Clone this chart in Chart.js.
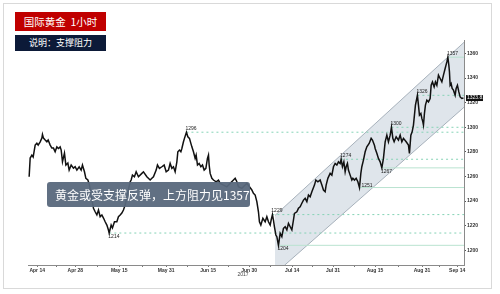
<!DOCTYPE html>
<html>
<head>
<meta charset="utf-8">
<script src="https://cdn.jsdelivr.net/npm/chart.js@4.4.0/dist/chart.umd.min.js"></script>
<style>
  body { margin: 0; background: #fff; font-family: "Noto Sans CJK SC", "Noto Sans", sans-serif; }
  #wrap { position: relative; width: 500px; height: 294px; overflow: hidden; }
  #frame { position: absolute; left: 3px; top: 3px; width: 487px; height: 284px; border: 1px solid #d9d9d9; }
  canvas { position: absolute; left: 0; top: 0; }
  .tag { position: absolute; left: 15px; width: 91px; color: #fff; text-align: center; white-space: pre; }
  #title { top: 12px; height: 19px; line-height: 19px; background: #c00000; font-size: 10.5px; }
  #subtitle { top: 35px; height: 16px; line-height: 16px; background: #0c1a38; font-size: 9px; }
  #note { position: absolute; left: 47px; top: 182px; width: 203px; height: 25px; line-height: 25px;
          background: rgba(88, 104, 124, 0.95); border-radius: 3px; color: #fff; font-size: 12px;
          padding-left: 8px; box-sizing: border-box; white-space: nowrap; overflow: visible; }
</style>
</head>
<body>
<div id="wrap">
  <div id="frame"></div>
  <canvas id="goldChart" width="500" height="294"></canvas>
  <div class="tag" id="title">国际黄金  1小时</div>
  <div class="tag" id="subtitle">说明：支撑阻力</div>
  <div id="note">黄金或受支撑反弹，上方阻力见1357</div>
</div>
<script>
// x = trading-session index (0 = Apr 14), y = gold price
const sessionIdx = [
  -2.10,-1.83,-1.39,-1.05,-0.52,-0.08,0.26,0.79,1.23,1.39,
  1.65,2.10,2.54,2.88,3.41,3.85,4.27,4.71,5.16,5.58,
  6.02,6.29,6.63,7.15,7.52,8.04,8.38,8.91,9.51,9.95,
  10.40,11.00,11.52,11.86,12.39,12.76,13.28,13.70,14.14,14.75,
  15.19,15.64,16.06,16.50,16.95,17.37,17.81,18.26,18.67,18.86,
  19.38,19.72,20.25,20.87,21.29,21.74,22.18,22.60,23.05,23.70,
  24.36,24.62,24.96,25.48,25.93,26.53,27.42,27.84,28.73,29.60,
  30.04,30.46,31.17,31.51,32.03,32.66,33.26,33.79,34.39,34.83,
  35.28,35.70,36.14,36.59,36.85,37.27,37.64,37.90,38.32,38.58,
  39.10,39.47,39.89,40.26,40.52,40.94,41.38,41.64,41.99,42.43,
  42.88,43.30,43.74,44.19,44.60,44.87,45.05,45.31,45.76,46.18,
  46.88,47.49,47.93,48.80,49.69,50.55,51.42,51.86,52.31,52.72,
  53.61,54.48,54.92,55.61,56.23,56.65,57.10,57.54,57.96,58.22,
  58.59,59.12,59.72,60.16,60.58,61.03,61.29,61.63,61.89,62.15,
  62.52,62.78,63.20,63.65,64.09,64.51,64.96,65.40,65.82,66.27,
  66.71,67.13,67.39,68.02,68.44,68.88,69.33,69.75,70.19,70.64,
  71.06,71.50,71.95,72.63,73.00,73.52,74.12,74.57,74.99,75.43,
  75.69,76.14,76.74,77.19,77.61,78.05,78.50,78.92,79.36,79.62,
  79.96,80.33,80.67,80.93,81.27,81.53,81.98,82.42,82.69,83.11,
  83.55,84.00,84.42,84.78,85.04,85.46,85.91,86.35,86.96,87.48,
  87.82,88.34,88.53,88.97,89.39,89.84,90.28,90.70,91.15,91.59,
  92.01,92.46,92.80,93.16,93.50,94.03,94.63,95.08,95.52,95.94,
  96.65,97.25,97.51,97.88,98.22,98.56,98.82,99.08,99.60,99.87,
  100.13,100.50,100.76,101.02,101.18,101.44,101.70,102.07,102.49,102.93,
  103.20,103.54,103.98,104.32,104.69,105.11,105.55,106.00,106.42,106.86,
  107.31,107.57,107.83,107.99,108.17,108.43,108.70,109.04,109.48,109.74,
  110.08,110.45,110.79,111.23,111.65
];
const prices = [
  1259.8,1275.0,1277.4,1275.8,1285.5,1287.1,1285.5,1288.2,1291.2,1294.2,
  1291.2,1289.6,1288.2,1289.6,1285.5,1283.1,1283.1,1280.1,1284.1,1282.8,
  1284.1,1281.5,1271.9,1279.0,1269.3,1270.9,1265.2,1269.3,1266.8,1267.9,
  1265.2,1267.9,1265.2,1269.3,1263.8,1258.5,1257.1,1253.0,1244.9,1234.1,
  1231.3,1228.7,1232.7,1227.3,1228.7,1226.2,1223.2,1220.5,1216.5,1214.0,
  1220.5,1218.1,1223.2,1223.2,1227.3,1228.7,1230.3,1232.7,1236.8,1246.5,
  1255.7,1257.1,1261.1,1259.8,1263.8,1259.8,1262.5,1263.8,1259.8,1257.1,
  1258.5,1259.8,1265.2,1269.3,1266.6,1267.9,1269.3,1263.8,1265.2,1270.6,
  1266.6,1267.9,1263.8,1271.9,1280.1,1281.5,1280.1,1282.8,1288.2,1291.0,
  1296.0,1292.3,1291.0,1286.9,1284.1,1280.1,1274.7,1277.4,1269.3,1270.6,
  1267.9,1269.3,1265.2,1266.6,1274.7,1277.4,1269.3,1262.5,1258.5,1257.1,
  1255.7,1257.1,1254.4,1253.0,1251.6,1254.4,1257.1,1258.5,1255.7,1251.6,
  1250.3,1253.0,1254.4,1251.6,1249.0,1246.3,1244.9,1239.5,1231.3,1223.2,
  1220.5,1226.0,1223.2,1227.3,1223.2,1220.5,1224.6,1229.0,1224.6,1219.1,
  1212.4,1211.0,1204.0,1213.8,1211.0,1217.8,1219.1,1216.5,1221.9,1219.1,
  1216.5,1224.6,1230.0,1231.3,1234.1,1235.4,1238.2,1240.8,1242.2,1239.5,
  1244.9,1243.5,1247.6,1253.0,1257.1,1255.7,1257.1,1253.0,1249.0,1247.6,
  1253.0,1258.5,1262.5,1261.1,1267.9,1270.6,1269.3,1271.9,1270.6,1274.0,
  1267.9,1271.9,1263.8,1267.9,1270.6,1265.2,1261.1,1257.1,1258.5,1257.1,
  1258.5,1255.7,1251.0,1262.5,1267.9,1273.3,1280.1,1284.1,1286.9,1291.0,
  1289.6,1285.5,1282.8,1278.8,1274.7,1271.9,1267.0,1274.7,1288.2,1293.6,
  1288.2,1293.6,1300.0,1291.0,1288.2,1292.3,1289.6,1293.6,1288.2,1291.0,
  1288.2,1285.5,1278.8,1293.6,1296.3,1301.8,1309.9,1318.0,1326.0,1318.0,
  1309.9,1311.3,1307.2,1304.4,1301.8,1311.3,1318.0,1322.1,1320.7,1323.4,
  1334.2,1336.9,1332.9,1336.9,1334.2,1342.4,1339.7,1336.9,1342.4,1347.8,
  1353.2,1357.0,1350.5,1345.1,1334.2,1335.6,1331.6,1330.2,1326.1,1331.6,
  1334.2,1328.8,1324.7,1323.4,1323.8
];
const lastPriceText = '1323.81';

// support / resistance levels
const levelValues = [1357, 1326, 1300, 1296, 1274, 1267, 1251, 1229, 1214, 1204];
const levelStart  = [107.6, 99.6, 92.8, 39.1, 79.6, 90.3, 84.4, 61.6, 18.9, 63.2];
const levelDotted = [false, true, true, true, true, false, false, true, true, false];
const levelLabelSide = ['above', 'above', 'above', 'above', 'above', 'below', 'right', 'above', 'below', 'below'];

// rising channel corners
const channelIdx = [62.3, 111.8, 111.8, 64.8, 62.3];
const channelVal = [1228.3, 1369.1, 1316.3, 1187.8, 1187.8];

// axes
const xTickIdx = [0, 10, 21.5, 33.8, 44.8, 55.5, 66.8, 77.5, 88.5, 100.8, 110];
const xTickLabels = ['Apr 14', 'Apr 28', 'May 15', 'May 31', 'Jun 15', 'Jun 30', 'Jul 14', 'Jul 31', 'Aug 15', 'Aug 31', 'Sep 14'];
const yTickValues = [1200, 1220, 1240, 1260, 1280, 1300, 1320, 1340, 1360];
const xMin = -2.4, xMax = 111.8, yMin = 1188, yMax = 1371;

const priceData = sessionIdx.map((t, i) => ({ x: t, y: prices[i] }));

const levelSets = levelValues.map((v, i) => ({
  data: [{ x: levelStart[i], y: v }, { x: xMax, y: v }],
  borderColor: levelDotted[i] ? '#86d3b6' : '#b9e3d0',
  borderWidth: 1,
  borderDash: levelDotted[i] ? [2, 3] : [],
  pointRadius: 0,
  order: 2
}));

const channelPlugin = {
  id: 'channel',
  beforeDatasetsDraw(chart) {
    const { ctx, chartArea, scales } = chart;
    const px = channelIdx.map(t => scales.x.getPixelForValue(t));
    const py = channelVal.map(v => scales.y.getPixelForValue(v));
    ctx.save();
    ctx.beginPath();
    ctx.rect(chartArea.left, chartArea.top, chartArea.width, chartArea.height);
    ctx.clip();
    ctx.beginPath();
    px.forEach((x, i) => i ? ctx.lineTo(x, py[i]) : ctx.moveTo(x, py[i]));
    ctx.closePath();
    ctx.fillStyle = '#dfe5eb';
    ctx.fill();
    ctx.strokeStyle = '#a7b1bb';
    ctx.lineWidth = 1;
    ctx.beginPath();
    ctx.moveTo(px[0], py[0]); ctx.lineTo(px[1], py[1]);
    ctx.moveTo(px[2], py[2]); ctx.lineTo(px[3], py[3]);
    ctx.stroke();
    ctx.restore();
  },
  afterDatasetsDraw(chart) {
    const { ctx, scales } = chart;
    ctx.save();
    ctx.font = '5px "Liberation Sans", Arial, sans-serif';
    ctx.fillStyle = '#222';
    levelValues.forEach((v, i) => {
      const x = scales.x.getPixelForValue(levelStart[i]);
      const y = scales.y.getPixelForValue(v);
      const side = levelLabelSide[i];
      ctx.textAlign = 'left';
      if (side === 'above') { ctx.textBaseline = 'bottom'; ctx.fillText(String(v), x - 1, y - 1); }
      else if (side === 'below') { ctx.textBaseline = 'top'; ctx.fillText(String(v), x - 1, y + 1); }
      else { ctx.textBaseline = 'middle'; ctx.fillText(String(v), x + 2, y - 2); }
    });
    // last price tag on the axis
    const ly = scales.y.getPixelForValue(prices[prices.length - 1]);
    const lx = chart.chartArea.right + 2;
    ctx.fillStyle = '#111';
    ctx.fillRect(lx, ly - 3, 17, 6);
    ctx.fillStyle = '#fff';
    ctx.textBaseline = 'middle';
    ctx.fillText(lastPriceText, lx + 1, ly);
    // year under Jun 30
    ctx.fillStyle = '#444';
    ctx.textAlign = 'center';
    ctx.textBaseline = 'top';
    ctx.fillText('2017', scales.x.getPixelForValue(xTickIdx[5]) - 6, chart.chartArea.bottom + 7);
    ctx.restore();
  }
};

new Chart(document.getElementById('goldChart'), {
  type: 'line',
  data: {
    datasets: [
      {
        data: priceData,
        borderColor: '#111',
        borderWidth: 1.5,
        pointRadius: 0,
        tension: 0,
        order: 1
      },
      ...levelSets
    ]
  },
  options: {
    responsive: false,
    animation: false,
    devicePixelRatio: 1,
    layout: { padding: { left: 28, top: 40, right: 0, bottom: 0 } },
    plugins: { legend: { display: false }, tooltip: { enabled: false } },
    scales: {
      x: {
        type: 'linear',
        min: xMin,
        max: xMax,
        afterFit(scale) { scale.height = 29; },
        afterBuildTicks(scale) {
          const ticks = [];
          xTickIdx.forEach((t, i) => {
            ticks.push({ value: t });
            if (i < xTickIdx.length - 1) ticks.push({ value: (t + xTickIdx[i + 1]) / 2 });
          });
          scale.ticks = ticks;
        },
        grid: { drawOnChartArea: false, tickLength: 2, color: '#777' },
        border: { color: '#8a8a8a' },
        ticks: {
          autoSkip: false,
          maxRotation: 0,
          padding: 1,
          color: '#333',
          font: { size: 5, family: '"Liberation Sans", Arial, sans-serif', weight: 'bold' },
          callback(value) {
            const k = xTickIdx.indexOf(value);
            return k >= 0 ? xTickLabels[k] : '';
          }
        }
      },
      y: {
        position: 'right',
        min: yMin,
        max: yMax,
        afterFit(scale) { scale.width = 36; },
        afterBuildTicks(scale) { scale.ticks = yTickValues.map(v => ({ value: v })); },
        grid: { drawOnChartArea: false, tickLength: 2, color: '#555' },
        border: { color: '#8a8a8a' },
        ticks: {
          padding: 1,
          color: '#333',
          font: { size: 5, family: '"Liberation Sans", Arial, sans-serif', weight: 'bold' },
          callback(value) { return String(value); }
        }
      }
    }
  },
  plugins: [channelPlugin]
});
</script>
</body>
</html>
